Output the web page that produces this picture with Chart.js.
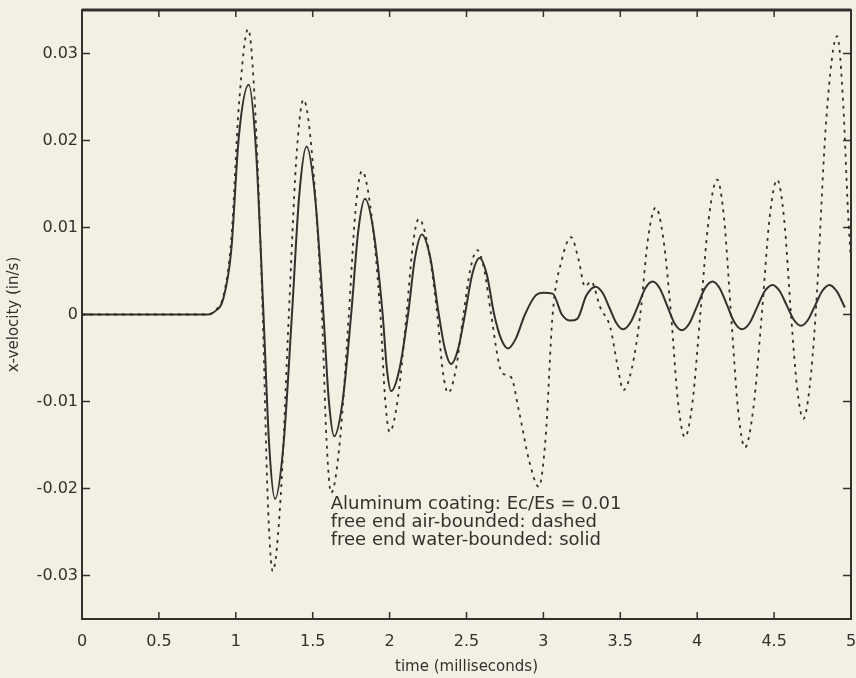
<!DOCTYPE html>
<html>
<head>
<meta charset="utf-8">
<script src="https://cdn.jsdelivr.net/npm/chart.js@4"></script>
<style>
  html, body { margin: 0; padding: 0; background: #f1f0e2; }
  #wrap { width: 856px; height: 678px; }
</style>
</head>
<body>
<div id="wrap"><canvas id="velocityChart" width="856" height="678"></canvas></div>
<script>
// tick values and labels
const xTicks = [0, 0.5, 1, 1.5, 2, 2.5, 3, 3.5, 4, 4.5, 5];
const xLabels = ["0", "0.5", "1", "1.5", "2", "2.5", "3", "3.5", "4", "4.5", "5"];
const yTicks = [-0.03, -0.02, -0.01, 0, 0.01, 0.02, 0.03];
const yLabels = ["-0.03", "-0.02", "-0.01", "0", "0.01", "0.02", "0.03"];

// free end water-bounded (solid)
const solidT = [0, 0.5, 0.82, 0.86, 0.92, 0.97, 1.02, 1.084, 1.132, 1.18, 1.217, 1.255, 1.31, 1.365, 1.412,
  1.46, 1.515, 1.57, 1.605, 1.64, 1.695, 1.75, 1.795, 1.84, 1.897, 1.955, 1.982, 2.01, 2.065, 2.12, 2.165,
  2.21, 2.265, 2.32, 2.36, 2.40, 2.445, 2.49, 2.537, 2.585, 2.632, 2.68, 2.725, 2.77, 2.82, 2.88, 2.95,
  3.00, 3.06, 3.12, 3.175, 3.22, 3.28, 3.34, 3.385, 3.43, 3.475, 3.52, 3.567, 3.615, 3.662, 3.71, 3.757,
  3.805, 3.852, 3.90, 3.95, 4.00, 4.05, 4.10, 4.147, 4.195, 4.242, 4.29, 4.34, 4.39, 4.44, 4.49, 4.536,
  4.582, 4.628, 4.675, 4.721, 4.767, 4.813, 4.86, 4.91, 4.96];
const solidV = [0, 0, 0, 0.0003, 0.0019, 0.0073, 0.0205, 0.0264, 0.0187, 0, -0.015, -0.0212, -0.015, 0,
  0.0136, 0.0193, 0.0136, 0, -0.0099, -0.014, -0.0099, 0, 0.0094, 0.0133, 0.0094, 0, -0.0062, -0.0088,
  -0.0062, 0, 0.0065, 0.0092, 0.0065, 0, -0.004, -0.0057, -0.004, 0, 0.0046, 0.0065, 0.0046, 0, -0.0028,
  -0.0039, -0.0028, 0, 0.0022, 0.0025, 0.0024, 0, -0.0007, -0.0005, 0.0022, 0.0032, 0.0025, 0.00075,
  -0.001, -0.0017, -0.0009, 0.001, 0.003, 0.0038, 0.003, 0.001, -0.001, -0.0018, -0.001, 0.001, 0.003,
  0.0038, 0.003, 0.00105, -0.0009, -0.0017, -0.001, 0.00085, 0.0027, 0.0034, 0.0027, 0.00105, -0.0006,
  -0.0013, -0.0006, 0.00105, 0.0027, 0.0034, 0.0026, 0.0008];

// free end air-bounded (dashed)
const dashedT = [0, 0.5, 0.82, 0.86, 0.92, 0.97, 1.02, 1.08, 1.127, 1.175, 1.207, 1.24, 1.292, 1.345, 1.392,
  1.44, 1.50, 1.56, 1.59, 1.62, 1.677, 1.735, 1.777, 1.82, 1.88, 1.94, 1.97, 2.00, 2.055, 2.11, 2.15, 2.19,
  2.25, 2.31, 2.345, 2.38, 2.43, 2.48, 2.525, 2.57, 2.615, 2.66, 2.72, 2.75, 2.79, 2.84, 2.91, 2.97, 3.015,
  3.06, 3.12, 3.18, 3.23, 3.27, 3.31, 3.37, 3.435, 3.48, 3.52, 3.575, 3.63, 3.68, 3.73, 3.78, 3.83, 3.875,
  3.92, 3.97, 4.02, 4.075, 4.13, 4.175, 4.22, 4.265, 4.31, 4.365, 4.42, 4.47, 4.52, 4.565, 4.61, 4.65,
  4.69, 4.73, 4.77, 4.84, 4.91, 4.95, 4.98, 5.0];
const dashedV = [0, 0, 0, 0.0004, 0.0022, 0.0085, 0.024, 0.0328, 0.0232, 0, -0.0209, -0.0295, -0.0209, 0,
  0.0175, 0.0247, 0.0175, 0, -0.0145, -0.0205, -0.0145, 0, 0.0117, 0.0165, 0.0117, 0, -0.0095, -0.0135,
  -0.0095, 0, 0.0078, 0.011, 0.0078, 0, -0.0064, -0.009, -0.0064, 0, 0.0052, 0.0074, 0.0052, 0, -0.0063,
  -0.0069, -0.0072, -0.011, -0.017, -0.0198, -0.014, 0, 0.0063, 0.0089, 0.0062, 0.0032, 0.0038, 0.0008,
  -0.0015, -0.0057, -0.0087, -0.0062, 0, 0.0087, 0.0123, 0.0087, 0, -0.01, -0.0141, -0.01, 0, 0.011,
  0.0155, 0.011, 0, -0.0108, -0.0153, -0.0108, 0, 0.011, 0.0155, 0.011, 0, -0.0085, -0.012, -0.0085, 0,
  0.0226, 0.032, 0.024, 0.012, 0.006];

const noteLines = [
  "Aluminum coating: Ec/Es = 0.01",
  "free end air-bounded: dashed",
  "free end water-bounded: solid"
];

const ink = "#34302d";
const fontFamily = "'DejaVu Sans', sans-serif";

function pairs(ts, vs) {
  return ts.map((t, i) => ({ x: t, y: vs[i] }));
}

// MATLAB style inner ticks, box and the text note
const framePlugin = {
  id: "frame",
  afterDraw(chart) {
    const { ctx, chartArea: a, scales } = chart;
    const x = scales.x, y = scales.y;
    ctx.save();
    ctx.strokeStyle = ink;
    ctx.lineWidth = 1.5;
    ctx.beginPath();
    xTicks.forEach(v => {
      const px = x.getPixelForValue(v);
      ctx.moveTo(px, a.bottom); ctx.lineTo(px, a.bottom - 7);
      ctx.moveTo(px, a.top); ctx.lineTo(px, a.top + 7);
    });
    yTicks.forEach(v => {
      const py = y.getPixelForValue(v);
      ctx.moveTo(a.left, py); ctx.lineTo(a.left + 8, py);
      ctx.moveTo(a.right, py); ctx.lineTo(a.right - 8, py);
    });
    ctx.stroke();

    ctx.lineWidth = 2;
    ctx.strokeRect(a.left, a.top, a.right - a.left, a.bottom - a.top);
    ctx.lineWidth = 3;
    ctx.beginPath();
    ctx.moveTo(a.left, a.top); ctx.lineTo(a.right, a.top);
    ctx.stroke();

    ctx.fillStyle = ink;
    ctx.font = "18px " + fontFamily;
    ctx.textBaseline = "middle";
    const nx = x.getPixelForValue(1.617);
    const ny = y.getPixelForValue(-0.0218);
    noteLines.forEach((s, i) => ctx.fillText(s, nx, ny + i * 18));
    ctx.restore();
  }
};

new Chart(document.getElementById("velocityChart"), {
  type: "line",
  data: {
    datasets: [
      {
        label: "air-bounded",
        data: pairs(dashedT, dashedV),
        borderColor: ink,
        borderWidth: 1.8,
        borderDash: [3, 5],
        pointRadius: 0,
        cubicInterpolationMode: "monotone",
        fill: false
      },
      {
        label: "water-bounded",
        data: pairs(solidT, solidV),
        borderColor: ink,
        borderWidth: 2,
        pointRadius: 0,
        cubicInterpolationMode: "monotone",
        fill: false
      }
    ]
  },
  options: {
    responsive: false,
    animation: false,
    layout: { padding: { top: 10, right: 5, left: 0, bottom: 0 } },
    plugins: { legend: { display: false }, tooltip: { enabled: false } },
    scales: {
      x: {
        type: "linear",
        min: 0,
        max: 5,
        afterBuildTicks: s => { s.ticks = xTicks.map(v => ({ value: v })); },
        afterFit: s => { s.height = 59; s.paddingLeft = 0; s.paddingRight = 0; },
        grid: { display: false, drawTicks: false },
        border: { display: false },
        ticks: {
          padding: 13,
          color: ink,
          maxRotation: 0,
          font: { family: fontFamily, size: 16 },
          callback: (v, i) => xLabels[i]
        },
        title: {
          display: true,
          text: "time (milliseconds)",
          color: ink,
          font: { family: fontFamily, size: 15 },
          padding: { top: 0, bottom: 2 }
        }
      },
      y: {
        type: "linear",
        min: -0.035,
        max: 0.035,
        afterBuildTicks: s => { s.ticks = yTicks.map(v => ({ value: v })); },
        afterFit: s => { s.width = 82; s.paddingTop = 0; s.paddingBottom = 0; },
        grid: { display: false, drawTicks: false },
        border: { display: false },
        ticks: {
          padding: 4,
          color: ink,
          font: { family: fontFamily, size: 16 },
          callback: (v, i) => yLabels[i]
        },
        title: {
          display: true,
          text: "x-velocity (in/s)",
          color: ink,
          font: { family: fontFamily, size: 15 },
          padding: { top: 5, bottom: 0 }
        }
      }
    }
  },
  plugins: [framePlugin]
});
</script>
</body>
</html>
